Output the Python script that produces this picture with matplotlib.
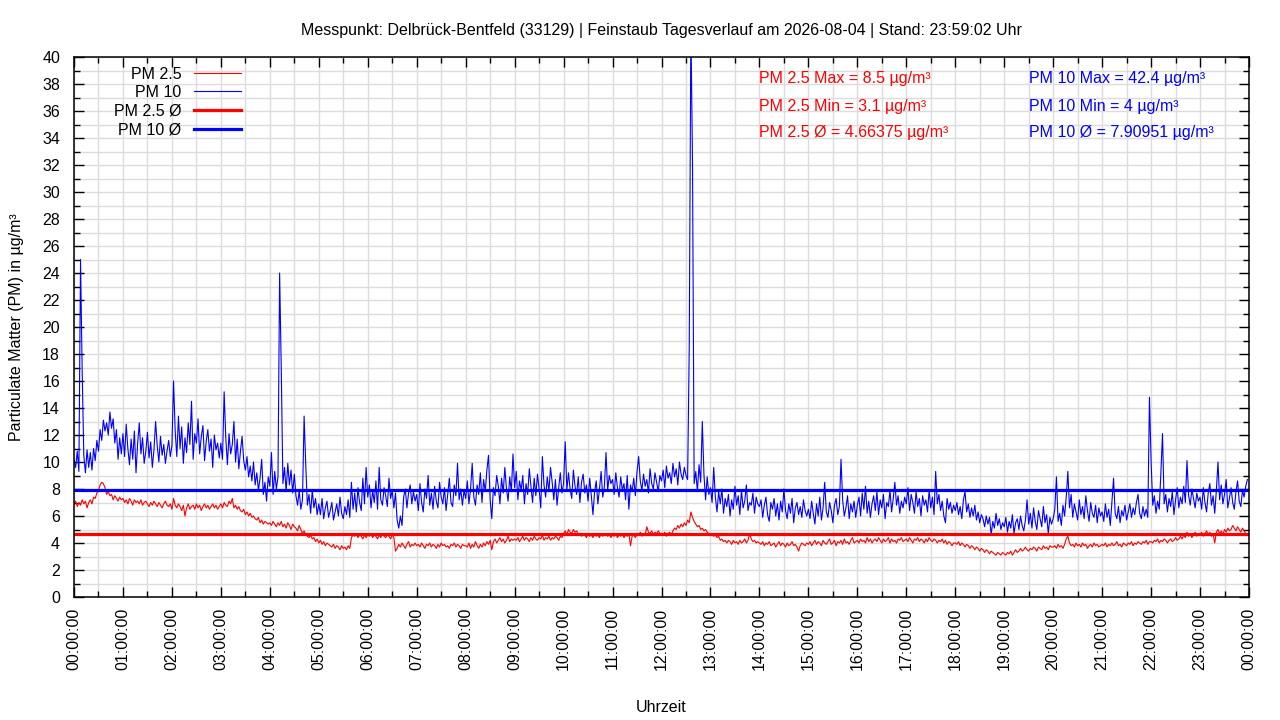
import matplotlib
matplotlib.use("Agg")
import matplotlib.pyplot as plt
from matplotlib.ticker import MultipleLocator, FuncFormatter
import numpy as np

plt.rcParams["font.family"] = ["Liberation Sans", "DejaVu Sans"]

# readings every 2 minutes, one row per hour (30 values)
pm10_rows = [
    [10.2, 9.6, 10.8, 9.3, 25.0, 16.8, 10.5, 9.2, 10.9, 9.6, 10.7, 9.4, 11.0, 10.1, 11.6, 10.8, 12.4, 11.6, 13.1, 12.3, 12.9, 12.0, 13.7, 12.5, 13.2, 11.4, 12.4, 10.2, 11.8, 10.6],
    [12.1, 10.4, 12.8, 11.0, 9.8, 11.7, 10.2, 12.3, 9.2, 11.4, 12.9, 10.6, 11.8, 9.9, 10.8, 12.2, 10.3, 11.5, 9.6, 10.9, 13.0, 11.2, 10.0, 11.9, 10.5, 11.3, 9.9, 10.8, 11.6, 10.4],
    [11.2, 16.0, 12.3, 10.4, 13.4, 11.0, 12.6, 9.9, 11.8, 10.7, 12.9, 11.3, 14.5, 10.2, 12.1, 11.4, 13.2, 10.6, 11.9, 12.7, 10.1, 11.5, 12.4, 10.8, 11.7, 9.6, 12.0, 10.9, 11.4, 10.3],
    [11.4, 10.2, 15.2, 11.8, 9.8, 12.1, 10.6, 11.3, 13.0, 10.0, 11.7, 9.5, 10.8, 11.9, 10.1, 9.4, 10.4, 8.9, 9.7, 8.6, 10.0, 8.3, 9.2, 7.9, 8.8, 10.2, 7.6, 8.5, 7.1, 8.9],
    [8.2, 10.7, 7.6, 9.3, 8.0, 8.9, 24.0, 16.9, 8.4, 9.6, 7.8, 9.9, 8.3, 9.4, 7.7, 9.1, 7.5, 6.8, 7.9, 6.5, 7.2, 13.4, 9.8, 6.8, 7.6, 6.2, 7.9, 6.6, 7.3, 6.1],
    [6.9, 6.1, 7.3, 5.8, 6.6, 7.1, 5.9, 6.4, 7.0, 5.7, 6.3, 6.9, 6.0, 7.4, 6.2, 5.8, 6.7, 6.1, 7.2, 5.9, 8.5, 6.5, 7.7, 6.3, 8.1, 7.0, 6.4, 8.8, 6.9, 9.6],
    [7.4, 8.3, 6.6, 7.9, 7.0, 8.6, 6.5, 9.6, 7.2, 6.8, 8.1, 7.5, 6.7, 8.8, 7.3, 7.9, 6.6, 7.7, 5.7, 5.1, 6.0, 5.3, 7.4, 8.0, 6.6, 7.7, 8.3, 6.9, 7.8, 7.1],
    [7.6, 6.4, 8.4, 7.0, 6.3, 8.0, 7.3, 9.0, 6.8, 7.7, 6.5, 8.2, 7.1, 6.6, 8.5, 7.4, 6.9, 8.1, 6.4, 7.6, 8.8, 7.0, 6.7, 8.3, 7.5, 9.9, 7.2, 8.0, 6.8, 7.9],
    [7.3, 8.6, 6.9, 8.0, 9.9, 7.4, 6.8, 8.3, 7.6, 9.2, 7.0, 8.7, 7.8, 9.4, 10.5, 7.2, 5.8, 8.1, 7.5, 9.0, 8.2, 6.9, 8.8, 7.7, 9.6, 8.0, 7.1, 8.9, 7.8, 10.6],
    [8.1, 9.3, 7.2, 8.6, 7.9, 9.0, 6.9, 8.4, 7.6, 9.5, 8.2, 7.0, 8.8, 7.5, 9.1, 8.0, 6.6, 10.4, 8.3, 7.4, 8.9, 7.8, 9.6, 8.5, 7.2, 8.7, 6.8, 8.1, 9.2, 7.7],
    [8.4, 11.5, 7.9, 9.2, 8.0, 7.3, 9.4, 8.2, 7.6, 8.9, 7.0, 8.5, 9.1, 7.7, 8.3, 7.1, 8.8, 7.5, 6.1, 7.8, 8.6, 6.9, 8.0, 9.3, 7.4, 8.2, 10.7, 7.9, 9.0, 8.4],
    [8.7, 7.6, 9.2, 8.1, 7.4, 8.9, 7.9, 8.4, 7.2, 9.0, 6.5, 8.3, 7.8, 8.8, 7.5, 9.3, 10.4, 8.6, 7.9, 9.1, 8.2, 8.7, 7.7, 9.5, 8.4, 8.0, 9.2, 8.5, 7.8, 9.0],
    [8.6, 9.4, 8.1, 9.7, 8.8, 9.2, 8.4, 9.9, 8.9, 9.5, 8.3, 10.0, 9.1, 8.7, 9.6, 9.0, 8.7, 18.5, 42.4, 32.2, 8.4, 9.3, 7.8, 9.8, 8.5, 13.0, 9.1, 7.2, 8.9, 7.6],
    [8.1, 7.0, 9.6, 7.4, 6.3, 7.8, 6.9, 8.0, 6.2, 7.3, 6.7, 7.6, 6.0, 7.2, 6.5, 8.2, 6.8, 7.5, 6.1, 7.9, 6.6, 7.1, 8.3, 6.4, 7.0, 6.8, 7.7, 6.2, 7.4, 6.9],
    [6.7, 7.2, 5.9, 6.8, 7.4, 6.1, 5.6, 7.0, 6.5, 7.3, 6.0, 6.9, 5.7, 7.1, 6.3, 8.0, 6.4, 5.8, 6.9, 6.2, 7.3, 5.5, 6.6, 7.0, 6.1, 6.7, 5.9, 7.2, 6.4, 6.0],
    [6.5, 5.8, 7.1, 6.2, 5.4, 6.9, 6.0, 7.4, 5.7, 6.6, 8.5, 6.3, 5.9, 7.0, 6.4, 5.5, 6.8, 7.3, 6.1, 6.7, 10.2, 7.2, 6.0, 6.6, 7.5, 5.8, 6.9, 6.3, 7.1, 5.9],
    [6.8, 7.4, 6.0, 7.7, 6.5, 8.2, 6.2, 7.1, 5.9, 6.9, 7.5, 6.4, 7.8, 6.1, 7.2, 6.6, 7.6, 5.8, 7.0, 6.7, 7.9, 6.3, 7.3, 8.5, 6.8, 7.5, 6.2, 7.1, 6.6, 7.4],
    [6.9, 8.1, 6.4, 7.6, 7.0, 6.2, 7.8, 6.7, 7.3, 6.0, 7.5, 6.8, 7.2, 6.3, 7.9, 6.6, 7.4, 6.1, 9.3, 6.9, 7.6, 6.4, 7.1, 6.0, 5.5, 7.3, 6.5, 7.0, 6.2, 6.8],
    [6.4, 7.0, 6.1, 6.7, 5.8, 7.2, 7.8, 6.3, 6.9, 5.9, 6.6, 6.0, 6.8, 5.7, 6.3, 5.5, 6.1, 5.8, 5.2, 6.0, 5.4, 5.9, 4.6, 5.6, 5.1, 6.2, 5.3, 5.8, 5.0, 5.5],
    [5.2, 5.9, 4.8, 5.6, 5.1, 6.1, 4.7, 5.5, 5.8, 5.0, 6.0, 5.3, 4.9, 5.7, 7.2, 5.4, 6.2, 5.1, 6.6, 5.6, 5.0, 6.4, 5.8, 5.2, 6.7, 5.5, 6.1, 4.7, 5.9, 5.4],
    [5.8, 6.5, 8.9, 5.6, 6.2, 5.3, 6.8, 6.0, 7.4, 9.3, 6.6, 7.6, 5.9, 6.9, 6.3, 5.7, 7.2, 6.1, 6.7, 5.8, 7.5, 6.4, 5.6, 7.0, 6.2, 5.9, 6.8, 5.5, 6.6, 6.0],
    [6.3, 5.6, 6.9, 5.9, 6.5, 5.3, 7.1, 8.8, 6.2, 5.8, 6.7, 5.5, 6.4, 6.0, 6.8, 5.7, 6.3, 6.9, 5.9, 6.6, 6.1, 7.0, 7.6, 6.2, 5.8, 6.7, 6.0, 6.5, 5.9, 14.8],
    [10.1, 6.8, 7.5, 6.2, 7.1, 6.5, 9.2, 12.1, 6.9, 7.6, 6.3, 7.3, 6.7, 7.8, 6.1, 7.2, 8.1, 6.6, 7.4, 6.9, 8.2, 7.0, 10.1, 7.5, 6.8, 8.0, 7.3, 6.6, 7.7, 7.1],
    [7.4, 6.5, 8.1, 7.0, 6.3, 7.7, 8.4, 6.8, 7.5, 6.2, 7.9, 10.0, 7.2, 8.3, 6.9, 7.6, 8.7, 6.6, 7.3, 8.1, 7.0, 6.5, 7.8, 8.6, 7.1, 6.7, 7.9, 7.4, 8.2, 8.7],
]

pm25_rows = [
    [6.9, 7.1, 6.7, 7.0, 6.8, 7.2, 6.9, 7.1, 6.6, 7.0, 7.2, 6.9, 7.4, 7.3, 7.7, 7.9, 8.3, 8.5, 8.4, 8.1, 7.6, 7.8, 7.5, 7.6, 7.2, 7.5, 7.3, 7.1, 7.4, 7.2],
    [7.3, 7.0, 7.2, 6.9, 7.3, 7.1, 6.8, 7.2, 7.0, 7.1, 6.9, 7.2, 6.8, 7.0, 7.1, 6.9, 6.7, 7.0, 6.8, 7.1, 6.9, 6.7, 7.0, 6.8, 6.6, 6.9, 7.1, 6.8, 6.7, 6.9],
    [6.5, 7.3, 6.8, 6.6, 6.9, 6.7, 6.4, 6.8, 6.0, 6.6, 6.9, 6.5, 6.7, 6.8, 6.5, 6.9, 6.6, 6.8, 6.4, 6.7, 6.9, 6.6, 6.8, 6.5, 6.7, 6.9, 6.6, 6.8, 6.5, 6.7],
    [6.9, 6.6, 7.0, 6.8, 6.7, 7.1, 6.9, 7.3, 6.6, 6.8, 6.5, 6.7, 6.4, 6.3, 6.5, 6.1, 6.3, 6.0, 6.2, 5.9, 6.0, 5.8, 5.7, 5.9, 5.5, 5.7, 5.4, 5.6, 5.5, 5.4],
    [5.5, 5.3, 5.6, 5.4, 5.2, 5.5, 5.3, 5.6, 5.2, 5.4, 5.1, 5.5, 5.3, 5.0, 5.4, 5.2, 5.1, 4.9, 5.3, 5.0, 4.7, 4.9, 4.6, 4.5, 4.4, 4.6, 4.3, 4.4, 4.1, 4.3],
    [4.0, 4.2, 3.9, 4.1, 3.8, 4.0, 3.9, 3.8, 3.7, 3.9, 3.6, 3.8, 3.7, 3.5, 3.8, 3.6, 3.7, 3.5, 3.8, 3.6, 4.4, 4.6, 4.5, 4.7, 4.4, 4.6, 4.5, 4.3, 4.6, 4.4],
    [4.6, 4.5, 4.7, 4.4, 4.6, 4.5, 4.3, 4.6, 4.4, 4.7, 4.5, 4.4, 4.6, 4.5, 4.3, 4.6, 4.4, 3.4, 3.6, 3.9, 3.7, 4.0, 3.8, 3.6, 3.9, 4.1, 3.7, 3.9, 3.8, 4.0],
    [3.8, 3.9, 3.7, 4.0, 3.8, 3.6, 3.9, 3.8, 4.0, 3.7, 3.9, 3.8, 3.6, 3.9, 3.7, 4.0, 3.8, 3.9, 3.7, 3.8, 3.6, 3.9, 3.8, 4.0, 3.7, 3.9, 3.8, 3.6, 3.9, 3.8],
    [3.8, 3.7, 4.0, 3.6, 3.9, 3.7, 4.1, 3.8, 3.6, 3.9, 3.7, 4.0, 3.8, 4.1, 3.9, 4.2, 3.5, 4.1, 4.3, 4.0, 4.2, 4.4, 4.1, 4.3, 4.0, 4.2, 4.5, 4.1, 4.3, 4.2],
    [4.3, 4.2, 4.4, 4.1, 4.3, 4.5, 4.2, 4.4, 4.3, 4.1, 4.4, 4.2, 4.5, 4.3, 4.2, 4.4, 4.3, 4.6, 4.2, 4.4, 4.3, 4.5, 4.2, 4.4, 4.3, 4.5, 4.4, 4.2, 4.5, 4.4],
    [4.7, 4.9, 4.6, 5.0, 4.8, 4.7, 5.0, 4.8, 4.9, 4.6, 4.7, 4.5, 4.7, 4.6, 4.4, 4.7, 4.5, 4.6, 4.4, 4.7, 4.5, 4.6, 4.4, 4.7, 4.5, 4.6, 4.7, 4.5, 4.6, 4.4],
    [4.6, 4.5, 4.7, 4.4, 4.6, 4.5, 4.7, 4.4, 4.6, 4.5, 4.7, 3.8, 4.5, 4.6, 4.4, 4.7, 4.6, 4.8, 4.5, 4.7, 4.6, 5.2, 4.8, 4.7, 4.9, 4.6, 4.8, 4.7, 4.9, 4.7],
    [4.7, 4.6, 4.8, 4.5, 4.7, 4.8, 4.6, 4.9, 5.1, 5.0, 5.3, 5.1, 5.4, 5.2, 5.5, 5.3, 5.7, 5.5, 6.3, 5.9, 5.6, 5.4, 5.2, 5.3, 5.0, 5.1, 4.9, 5.0, 4.8, 4.7],
    [4.6, 4.7, 4.5, 4.6, 4.4, 4.5, 4.2, 4.3, 4.1, 4.2, 4.0, 4.2, 4.1, 3.9, 4.2, 4.0, 4.1, 3.9, 4.2, 4.0, 4.1, 4.3, 4.0, 4.2, 4.7, 4.3, 4.1, 4.2, 4.0, 4.1],
    [4.0, 3.9, 4.1, 3.8, 4.0, 3.9, 4.1, 3.8, 3.9, 4.0, 3.7, 3.9, 4.1, 3.8, 4.0, 3.9, 3.7, 4.0, 3.8, 3.9, 4.1, 3.8, 3.9, 3.7, 3.4, 3.8, 4.0, 3.9, 3.8, 4.0],
    [3.9, 4.1, 3.8, 4.0, 4.2, 3.9, 4.1, 4.0, 3.8, 4.2, 4.0, 3.9, 4.1, 4.3, 3.9, 4.0, 4.2, 3.8, 4.1, 4.0, 4.2, 3.9, 4.3, 4.0, 4.1, 3.9, 4.2, 4.4, 4.0, 4.1],
    [4.2, 4.0, 4.3, 4.1, 4.2, 4.0, 4.4, 4.1, 4.3, 4.0, 4.2, 4.3, 4.1, 4.4, 4.2, 4.0, 4.3, 4.1, 4.2, 4.4, 4.0, 4.3, 4.1, 4.2, 4.0, 4.3, 4.2, 4.4, 4.1, 4.2],
    [4.3, 4.1, 4.4, 4.2, 4.0, 4.3, 4.2, 4.4, 4.1, 4.3, 4.2, 4.0, 4.3, 4.1, 4.4, 4.2, 4.1, 4.3, 4.2, 4.0, 4.2, 4.1, 4.3, 4.0, 4.2, 3.9, 4.1, 4.0, 3.8, 4.0],
    [4.0, 3.9, 4.1, 3.8, 4.0, 3.9, 3.7, 3.9, 3.8, 3.6, 3.8, 3.7, 3.5, 3.7, 3.6, 3.4, 3.6, 3.5, 3.3, 3.5, 3.4, 3.2, 3.4, 3.3, 3.2, 3.1, 3.3, 3.2, 3.1, 3.3],
    [3.2, 3.1, 3.3, 3.2, 3.4, 3.1, 3.3, 3.5, 3.3, 3.4, 3.6, 3.4, 3.5, 3.7, 3.5, 3.4, 3.6, 3.5, 3.7, 3.6, 3.4, 3.7, 3.6, 3.5, 3.8, 3.6, 3.7, 3.5, 3.8, 3.7],
    [3.7, 3.8, 3.6, 3.9, 3.7, 3.8, 3.6, 3.9, 4.3, 4.5, 4.0, 3.8, 3.9, 3.7, 4.0, 3.8, 3.9, 3.7, 4.0, 3.8, 3.9, 3.6, 3.8, 3.9, 3.7, 4.0, 3.8, 3.9, 3.7, 3.8],
    [3.9, 3.8, 4.0, 3.7, 3.9, 3.8, 4.0, 3.8, 3.9, 4.1, 3.8, 3.9, 3.7, 4.0, 3.9, 3.8, 4.0, 3.9, 4.1, 3.8, 4.0, 3.9, 4.1, 4.0, 3.9, 4.1, 4.0, 4.2, 3.9, 4.1],
    [4.1, 4.0, 4.2, 4.1, 4.3, 4.0, 4.2, 4.1, 4.3, 4.2, 4.0, 4.2, 4.3, 4.1, 4.2, 4.4, 4.2, 4.3, 4.5, 4.3, 4.6, 4.4, 4.8, 4.5, 4.7, 4.4, 4.6, 4.8, 4.5, 4.7],
    [4.6, 4.8, 4.5, 4.7, 4.9, 4.6, 4.8, 4.5, 4.7, 4.0, 4.8, 5.0, 4.7, 4.9, 4.6, 5.0, 4.8, 5.1, 4.9, 5.0, 5.3, 5.1, 4.9, 5.2, 5.0, 4.8, 5.1, 4.9, 4.7, 4.6],
]

pm10 = np.concatenate(pm10_rows)
pm25 = np.concatenate(pm25_rows)
minutes = np.arange(len(pm10)) * 2

pm25_max, pm25_min, pm25_avg = 8.5, 3.1, 4.66375
pm10_max, pm10_min, pm10_avg = 42.4, 4, 7.90951

title = ("Messpunkt: Delbrück-Bentfeld (33129) | Feinstaub Tagesverlauf "
         "am 2026-08-04 | Stand: 23:59:02 Uhr")

fig = plt.figure(figsize=(12.8, 7.2), dpi=100)
ax = fig.add_axes([74 / 1280, 1 - 597 / 720, 1175 / 1280, 540 / 720])

ax.plot(minutes, pm25, color="#ff0000", lw=0.8, label="PM 2.5")
ax.plot(minutes, pm10, color="#0000ff", lw=0.8, label="PM 10")
ax.axhline(pm25_avg, color="#ff0000", lw=2.3, label="PM 2.5 Ø")
ax.axhline(pm10_avg, color="#0000ff", lw=2.3, label="PM 10 Ø")

ax.set_xlim(0, 1440)
ax.set_ylim(0, 40)

ax.xaxis.set_major_locator(MultipleLocator(60))
ax.xaxis.set_minor_locator(MultipleLocator(30))
ax.yaxis.set_major_locator(MultipleLocator(2))
ax.yaxis.set_minor_locator(MultipleLocator(1))
ax.xaxis.set_major_formatter(
    FuncFormatter(lambda v, p: "%02d:00:00" % (int(round(v / 60)) % 24)))

ax.tick_params(which="both", direction="in", top=True, right=True,
               color="black", width=1)
ax.tick_params(which="major", length=7)
ax.tick_params(which="minor", length=4)
ax.tick_params(axis="y", which="major", labelsize=11.5, pad=10)
ax.tick_params(axis="x", which="major", labelsize=11.5, pad=8,
               labelrotation=90)

ax.grid(which="both", color="#dcdcdc", lw=1)
ax.set_axisbelow(True)
for sp in ax.spines.values():
    sp.set_linewidth(1.1)

ax.set_title(title, fontsize=11.5, pad=16)
ax.set_xlabel("Uhrzeit", fontsize=11.5, labelpad=21)
ax.set_ylabel("Particulate Matter (PM) in µg/m³", fontsize=11.5, labelpad=13)

ax.legend(loc="upper left", bbox_to_anchor=(0.0246, 1.003), frameon=False,
          markerfirst=False, fontsize=11.5, handlelength=2.95,
          handletextpad=0.8, labelspacing=0.22, borderpad=0.2)

stats_red = ["PM 2.5 Max = %s µg/m³" % pm25_max,
             "PM 2.5 Min = %s µg/m³" % pm25_min,
             "PM 2.5 Ø = %s µg/m³" % pm25_avg]
stats_blue = ["PM 10 Max = %s µg/m³" % pm10_max,
              "PM 10 Min = %s µg/m³" % pm10_min,
              "PM 10 Ø = %s µg/m³" % pm10_avg]
for i, (r, b) in enumerate(zip(stats_red, stats_blue)):
    yy = 1 - (79 + 27 * i - 57) / 540
    ax.text(0.583, yy, r, color="#ff0000", fontsize=11.5,
            transform=ax.transAxes, va="center", ha="left")
    ax.text(0.8128, yy, b, color="#0000ff", fontsize=11.5,
            transform=ax.transAxes, va="center", ha="left")

fig.savefig("out.png", dpi=100)
